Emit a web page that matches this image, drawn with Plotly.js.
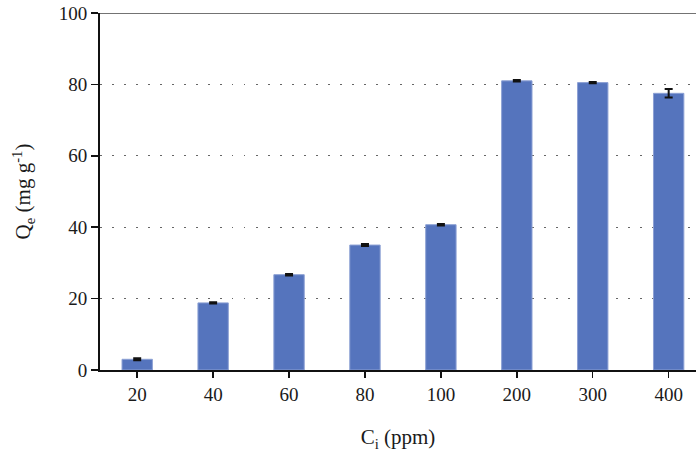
<!DOCTYPE html>
<html>
<head>
<meta charset="utf-8">
<script src="https://cdn.plot.ly/plotly-3.0.1.min.js"></script>
<style>html,body{margin:0;padding:0;background:#fff;}#chart{width:696px;height:453px;}</style>
</head>
<body>
<div id="chart"></div>
<script>
const categories = ["20", "40", "60", "80", "100", "200", "300", "400"];
const qe = [3.0, 18.8, 26.7, 35.0, 40.7, 81.0, 80.5, 77.5];
const qeErr = [0.3, 0.2, 0.2, 0.3, 0.2, 0.2, 0.2, 1.2];
const yTicks = [0, 20, 40, 60, 80, 100];

const tickFont = {family: "Liberation Serif, DejaVu Serif, serif", size: 19, color: "#1a1a1a"};
const titleFont = {family: "Liberation Serif, DejaVu Serif, serif", size: 21, color: "#1a1a1a"};

const trace = {
  type: "bar",
  x: categories,
  y: qe,
  width: 0.4,
  marker: {color: "#5574BD", line: {color: "#8CA0D4", width: 1}},
  error_y: {type: "data", array: qeErr, visible: true, color: "#111", thickness: 2, width: 4}
};

const layout = {
  width: 696, height: 453,
  margin: {l: 100, r: 0, t: 13, b: 83},
  paper_bgcolor: "#fff", plot_bgcolor: "#fff",
  font: tickFont,
  showlegend: false,
  xaxis: {
    type: "category",
    range: [-0.49, 7.36],
    showline: true, linecolor: "#111", linewidth: 2,
    ticks: "outside", ticklen: 6, tickwidth: 1.5, tickcolor: "#111",
    showgrid: false, zeroline: false,
    tickfont: tickFont,
    title: {text: "C<sub>i</sub> (ppm)", font: titleFont, standoff: 26}
  },
  yaxis: {
    range: [0, 100],
    tickvals: yTicks,
    showline: true, linecolor: "#111", linewidth: 2,
    ticks: "outside", ticklen: 7, tickwidth: 1.5, tickcolor: "#111",
    showgrid: true, gridcolor: "#666", gridwidth: 1.2, griddash: "1.5px,10.5px",
    zeroline: false,
    tickfont: tickFont,
    title: {text: "Q<sub>e</sub> (mg g<sup>-1</sup>)", font: titleFont, standoff: 22}
  },
  shapes: [{
    type: "line", xref: "paper", yref: "y", x0: 0, x1: 1, y0: 100, y1: 100,
    line: {color: "#444", width: 1.5}
  }]
};

Plotly.newPlot("chart", [trace], layout, {displayModeBar: false, staticPlot: true});
</script>
</body>
</html>
